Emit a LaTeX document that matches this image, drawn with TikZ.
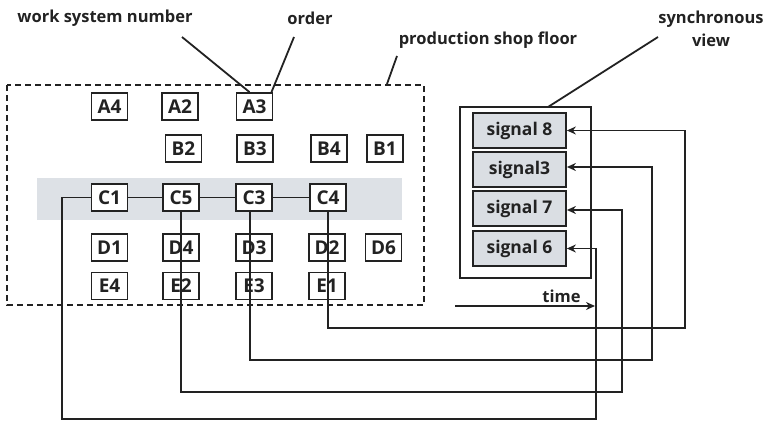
\documentclass[tikz,border=0pt]{standalone}
\usepackage{fontspec}
\setmainfont{Open Sans}
\usetikzlibrary{arrows.meta}
\definecolor{bandgray}{HTML}{DDE1E6}
\definecolor{sigfill}{HTML}{DADEE3}
\definecolor{ink}{HTML}{222222}
\begin{document}
\begin{tikzpicture}[x=1pt,y=-1pt,
  every node/.style={text=ink},
  lbl/.style={font=\fontsize{16.5}{23}\selectfont\bfseries, inner sep=0pt},
  ws/.style={draw=ink, line width=1.8pt, fill=white, minimum width=36pt, minimum height=27pt, inner sep=0pt, font=\fontsize{19}{20}\selectfont\bfseries},
  sig/.style={draw=ink, line width=1.8pt, fill=sigfill, minimum width=93pt, minimum height=35pt, inner sep=0pt, font=\fontsize{17.5}{19}\selectfont\bfseries},
  conn/.style={draw=ink, line width=1.8pt},
  arr/.style={conn, -{Stealth[length=9pt,width=8pt]}}
]
\useasboundingbox (0,0) rectangle (768,423);
% band
\fill[bandgray] (37,178) rectangle (402,220);
% dashed floor
\draw[ink, line width=1.8pt, dash pattern=on 6pt off 4pt] (7,85) rectangle (424,305);
% work system boxes
\node[ws] (A4) at (109.5,106.5) {A4};
\node[ws] (A2) at (180,106.5) {A2};
\node[ws] (A3) at (254.5,106.5) {A3};
\node[ws] (B2) at (183.5,148.5) {B2};
\node[ws] (B3) at (255,148.5) {B3};
\node[ws] (B4) at (329,148.5) {B4};
\node[ws] (B1) at (385,148.5) {B1};
\node[ws] (C1) at (109.5,197.5) {C1};
\node[ws] (C5) at (181,197.5) {C5};
\node[ws] (C3) at (254,197.5) {C3};
\node[ws] (C4) at (328,197.5) {C4};
\node[ws] (D1) at (109.5,247.5) {D1};
\node[ws] (D4) at (181,247.5) {D4};
\node[ws] (D3) at (254,247.5) {D3};
\node[ws] (D2) at (327,247.5) {D2};
\node[ws] (D6) at (383.5,247.5) {D6};
\node[ws] (E4) at (109.5,286) {E4};
\node[ws] (E2) at (181,286) {E2};
\node[ws] (E3) at (254,286) {E3};
\node[ws] (E1) at (327,286) {E1};
% synchronous view
\draw[ink, line width=2.6pt] (460,107) rectangle (591,278);
\coordinate (svtop) at (548,107);
\node[sig] (S8) at (519.5,130.5) {signal 8};
\node[sig] (S3) at (519.5,169.5) {signal3};
\node[sig] (S7) at (519.5,208.5) {signal 7};
\node[sig] (S6) at (519.5,248.5) {signal 6};
% labels
\node[lbl] (wsn) at (105,18) {work system number};
\node[lbl] (ord) at (310,18) {order};
\node[lbl] (psf) at (488,40) {production shop floor};
\node[lbl, align=center] (syn) at (711,29) {synchronous\\view};
\node[lbl] (time) at (561.5,296) {time};
% leaders
\coordinate (wsnA) at (182,37);
\coordinate (ordA) at (294,37);
\coordinate (psfA) at (397,56);
\coordinate (psfB) at (387,84);
\coordinate (synA) at (658,37);
\draw[conn] (wsnA) -- ([xshift=-5pt]A3.north);
\draw[conn] (ordA) -- ([xshift=17pt]A3.north);
\draw[conn] (psfA) -- (psfB);
\draw[conn] (synA) -- (svtop);
% chain
\draw[conn] (C1) -- (C5) -- (C3) -- (C4);
% time arrow
\coordinate (t0) at (455,306);
\coordinate (t1) at (595,306);
\draw[arr] (t0) -- (t1);
% routes
\draw[arr] (C4.south) |- (685,328) |- (S8.east);
\draw[arr] ([xshift=-4pt]C3.south) |- (652,360) |- ([yshift=2.5pt]S3.east);
\draw[arr] (C5.south) |- (622,392) |- ([yshift=-1.5pt]S7.east);
\draw[arr] (C1.west) -| (62,419) -| (596,248.5) -- (S6.east);
\end{tikzpicture}
\end{document}
